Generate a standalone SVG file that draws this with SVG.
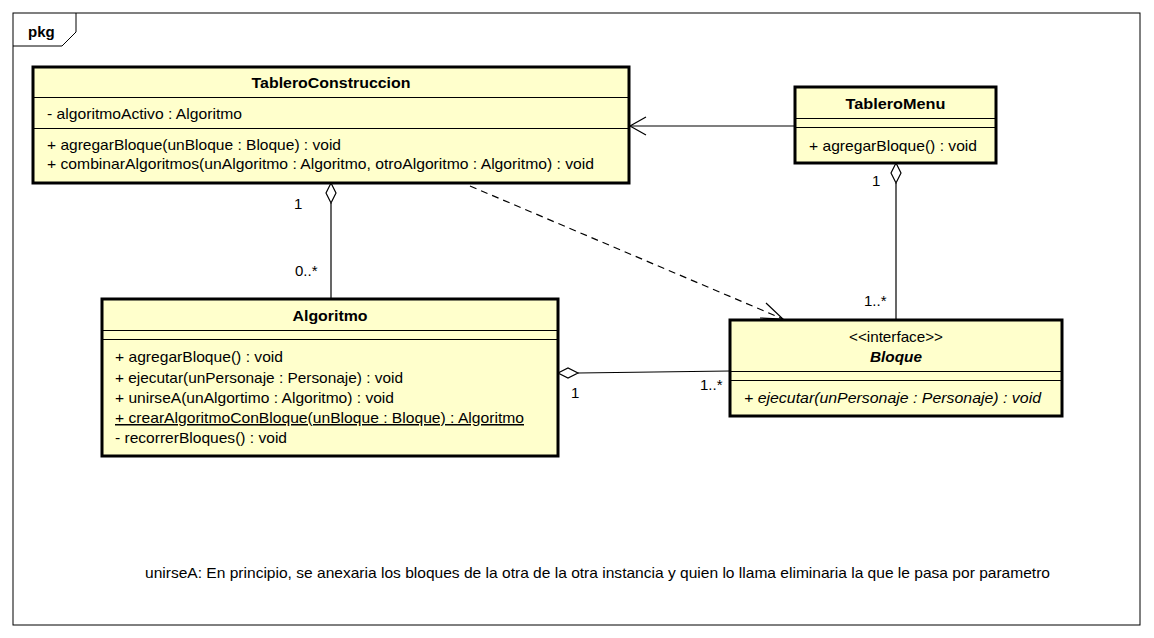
<svg xmlns="http://www.w3.org/2000/svg" width="1154" height="638" viewBox="0 0 1154 638">
<style>
.box{fill:#FFFFCC;stroke:#000;stroke-width:3}
.sep{stroke:#000;stroke-width:1}
.t{font-family:"Liberation Sans",Arial,sans-serif;font-size:15px;fill:#000}
.b{font-weight:bold}
.c{text-anchor:middle}
.ln{stroke:#000;stroke-width:1.2;fill:none}
.dia{fill:#fff;stroke:#000;stroke-width:1.2}
</style>
<rect x="0" y="0" width="1154" height="638" fill="#fff"/>
<g id="frame">
<rect x="13" y="13" width="1127" height="612" fill="none" stroke="#000" stroke-width="1"/>
<path d="M13,46 H62 L76,32 V13" fill="none" stroke="#000" stroke-width="1"/>
<text class="t b" x="28" y="37">pkg</text>
</g>
<g id="connectors">
<line class="ln" x1="795" y1="126" x2="630" y2="126"/>
<path class="ln" d="M646,117 L630,126 L646,135"/>
<line class="ln" x1="331" y1="203" x2="331" y2="299"/>
<path class="dia" d="M331,183 L336,193 L331,203 L326,193 Z"/>
<line class="ln" x1="896" y1="183" x2="896" y2="320"/>
<path class="dia" d="M896,163 L901,173 L896,183 L891,173 Z"/>
<line class="ln" x1="578" y1="373" x2="730" y2="371"/>
<path class="dia" d="M558,373 L568,368 L578,373 L568,378 Z"/>
<line class="ln" x1="470" y1="186" x2="783" y2="319" stroke-dasharray="7,5"/>
<path class="ln" d="M766,303 L783,319 L760,318"/>
<text class="t" x="294" y="209">1</text>
<text class="t" x="295" y="276">0..*</text>
<text class="t" x="872" y="186">1</text>
<text class="t" x="864" y="306">1..*</text>
<text class="t" x="571" y="398">1</text>
<text class="t" x="700" y="390">1..*</text>
</g>
<g id="TableroConstruccion">
<rect class="box" x="33" y="67" width="596" height="116"/>
<line class="sep" x1="33" y1="97.5" x2="629" y2="97.5"/>
<line class="sep" x1="33" y1="128.5" x2="629" y2="128.5"/>
<text class="t b c" x="331" y="88" textLength="159" lengthAdjust="spacingAndGlyphs">TableroConstruccion</text>
<text class="t" x="47" y="119" textLength="195" lengthAdjust="spacingAndGlyphs">- algoritmoActivo : Algoritmo</text>
<text class="t" x="47" y="150" textLength="294" lengthAdjust="spacingAndGlyphs">+ agregarBloque(unBloque : Bloque) : void</text>
<text class="t" x="47" y="169" textLength="547" lengthAdjust="spacingAndGlyphs">+ combinarAlgoritmos(unAlgoritmo : Algoritmo, otroAlgoritmo : Algoritmo) : void</text>
</g>
<g id="TableroMenu">
<rect class="box" x="795" y="87" width="201" height="76"/>
<line class="sep" x1="795" y1="118.5" x2="996" y2="118.5"/>
<line class="sep" x1="795" y1="127.5" x2="996" y2="127.5"/>
<text class="t b c" x="895.5" y="109" textLength="100" lengthAdjust="spacingAndGlyphs">TableroMenu</text>
<text class="t" x="809" y="151" textLength="168" lengthAdjust="spacingAndGlyphs">+ agregarBloque() : void</text>
</g>
<g id="Algoritmo">
<rect class="box" x="102" y="299" width="456" height="157"/>
<line class="sep" x1="102" y1="330.5" x2="558" y2="330.5"/>
<line class="sep" x1="102" y1="339.5" x2="558" y2="339.5"/>
<text class="t b c" x="330" y="321" textLength="75" lengthAdjust="spacingAndGlyphs">Algoritmo</text>
<text class="t" x="115" y="362" textLength="168" lengthAdjust="spacingAndGlyphs">+ agregarBloque() : void</text>
<text class="t" x="115" y="383" textLength="288" lengthAdjust="spacingAndGlyphs">+ ejecutar(unPersonaje : Personaje) : void</text>
<text class="t" x="115" y="403" textLength="279" lengthAdjust="spacingAndGlyphs">+ unirseA(unAlgortimo : Algoritmo) : void</text>
<text class="t" x="115" y="423" textLength="409" lengthAdjust="spacingAndGlyphs" text-decoration="underline">+ crearAlgoritmoConBloque(unBloque : Bloque) : Algoritmo</text>
<text class="t" x="115" y="443" textLength="172" lengthAdjust="spacingAndGlyphs">- recorrerBloques() : void</text>
</g>
<g id="Bloque">
<rect class="box" x="730" y="320" width="332" height="96"/>
<line class="sep" x1="730" y1="371.5" x2="1062" y2="371.5"/>
<line class="sep" x1="730" y1="380.5" x2="1062" y2="380.5"/>
<text class="t c" x="896" y="342" textLength="94" lengthAdjust="spacingAndGlyphs">&lt;&lt;interface&gt;&gt;</text>
<text class="t b c" x="896" y="362" font-style="italic" textLength="52" lengthAdjust="spacingAndGlyphs">Bloque</text>
<text class="t" x="744" y="403" font-style="italic" textLength="297" lengthAdjust="spacingAndGlyphs">+ ejecutar(unPersonaje : Personaje) : void</text>
</g>
<g id="note">
<text class="t" x="145" y="578" textLength="905" lengthAdjust="spacingAndGlyphs">unirseA: En principio, se anexaria los bloques de la otra de la otra instancia y quien lo llama eliminaria la que le pasa por parametro</text>
</g>
</svg>
